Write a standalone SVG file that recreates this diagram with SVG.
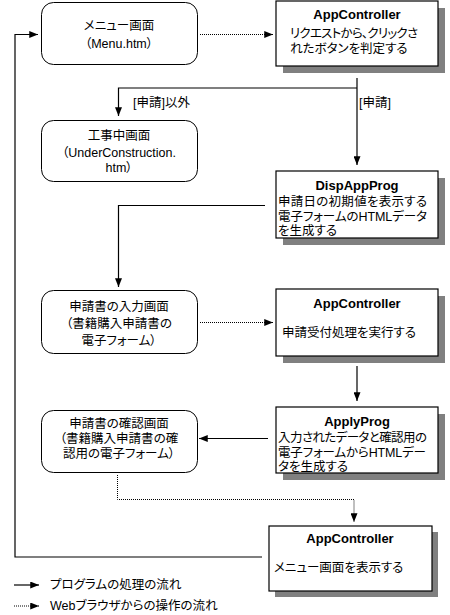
<svg xmlns="http://www.w3.org/2000/svg" width="450" height="615" viewBox="0 0 450 615">
<style>
text{font-family:"Liberation Sans","Noto Sans CJK JP",sans-serif;font-size:12.5px;fill:#000;font-feature-settings:"palt" 1}
.t{font-weight:bold;font-size:13px;text-anchor:middle}
.c{text-anchor:middle}
.rb{fill:#fff;stroke:#000;stroke-width:1}
.bx{fill:#fff;stroke:#000;stroke-width:1.2}
.sh{fill:#808080}
.ln{fill:none;stroke:#000;stroke-width:1.2}
.dt{fill:none;stroke:#000;stroke-width:1;stroke-dasharray:1 1}
</style>
<defs>
<marker id="ah" viewBox="0 0 10 8" refX="10" refY="4" markerWidth="9" markerHeight="7" markerUnits="userSpaceOnUse" orient="auto">
<path d="M0,0 L10,4 L0,8 Z" fill="#000"/>
</marker>
</defs>

<g id="connectors">
<path class="dt" d="M200,34.5 H273" marker-end="url(#ah)"/>
<path class="ln" d="M262,557 H15 V34.5 H38" marker-end="url(#ah)"/>
<path class="ln" d="M357,78 V165" marker-end="url(#ah)"/>
<path class="ln" d="M357,88 H118.5 V116" marker-end="url(#ah)"/>
<path class="ln" d="M265,205.5 H118.5 V287" marker-end="url(#ah)"/>
<path class="dt" d="M200,322.5 H273" marker-end="url(#ah)"/>
<path class="ln" d="M357,366 V401" marker-end="url(#ah)"/>
<path class="ln" d="M268,438.5 H199" marker-end="url(#ah)"/>
<path class="dt" d="M117.5,475 V499.5 H354 V522" marker-end="url(#ah)"/>
<text x="133" y="107">[申請]以外</text>
<text x="359" y="107">[申請]</text>
</g>

<g id="menu">
<rect class="rb" x="41.5" y="2.5" width="156" height="62" rx="12"/>
<text class="c" x="119" y="30">メニュー画面</text>
<text class="c" x="119" y="48">（Menu.htm）</text>
</g>

<g id="appcontroller1">
<rect class="sh" x="283" y="8" width="162" height="65"/>
<rect class="bx" x="276" y="1" width="162" height="65"/>
<text class="t" x="357" y="19">AppController</text>
<text x="290" y="38" textLength="128">リクエストから、クリックさ</text>
<text x="290" y="53">れたボタンを判定する</text>
</g>

<g id="underconstruction">
<rect class="rb" x="41.5" y="120.5" width="156" height="61" rx="12"/>
<text class="c" x="119" y="140">工事中画面</text>
<text class="c" x="119" y="157">（UnderConstruction.</text>
<text class="c" x="119" y="172">htm）</text>
</g>

<g id="dispappprog">
<rect class="sh" x="283" y="178" width="162" height="67"/>
<rect class="bx" x="276" y="171" width="162" height="67"/>
<text class="t" x="357" y="190">DispAppProg</text>
<text x="278" y="206" textLength="149">申請日の初期値を表示する</text>
<text x="278" y="221" textLength="149">電子フォームのHTMLデータ</text>
<text x="278" y="235">を生成する</text>
</g>

<g id="input">
<rect class="rb" x="41.5" y="290.5" width="156" height="63" rx="12"/>
<text class="c" x="119" y="311">申請書の入力画面</text>
<text class="c" x="119" y="328">（書籍購入申請書の</text>
<text class="c" x="119" y="345">電子フォーム）</text>
</g>

<g id="appcontroller2">
<rect class="sh" x="283" y="296" width="162" height="67"/>
<rect class="bx" x="276" y="289" width="162" height="67"/>
<text class="t" x="357" y="308">AppController</text>
<text x="282" y="337">申請受付処理を実行する</text>
</g>

<g id="applyprog">
<rect class="sh" x="283" y="414" width="162" height="66"/>
<rect class="bx" x="276" y="407" width="162" height="66"/>
<text class="t" x="357" y="426">ApplyProg</text>
<text x="278" y="442" textLength="149">入力されたデータと確認用の</text>
<text x="278" y="457" textLength="148">電子フォームからHTMLデー</text>
<text x="278" y="471">タを生成する</text>
</g>

<g id="confirm">
<rect class="rb" x="41.5" y="410.5" width="156" height="62" rx="12"/>
<text class="c" x="119" y="428">申請書の確認画面</text>
<text class="c" x="119" y="443">（書籍購入申請書の確</text>
<text class="c" x="119" y="458">認用の電子フォーム）</text>
</g>

<g id="appcontroller3">
<rect class="sh" x="275" y="532" width="163" height="65"/>
<rect class="bx" x="269" y="526" width="163" height="65"/>
<text class="t" x="350" y="543">AppController</text>
<text x="274" y="572">メニュー画面を表示する</text>
</g>

<g id="legend">
<path class="ln" d="M14,585 H39" marker-end="url(#ah)"/>
<path class="dt" d="M14,606 H39" marker-end="url(#ah)"/>
<text x="50" y="589">プログラムの処理の流れ</text>
<text x="50" y="610">Webブラウザからの操作の流れ</text>
</g>
</svg>
